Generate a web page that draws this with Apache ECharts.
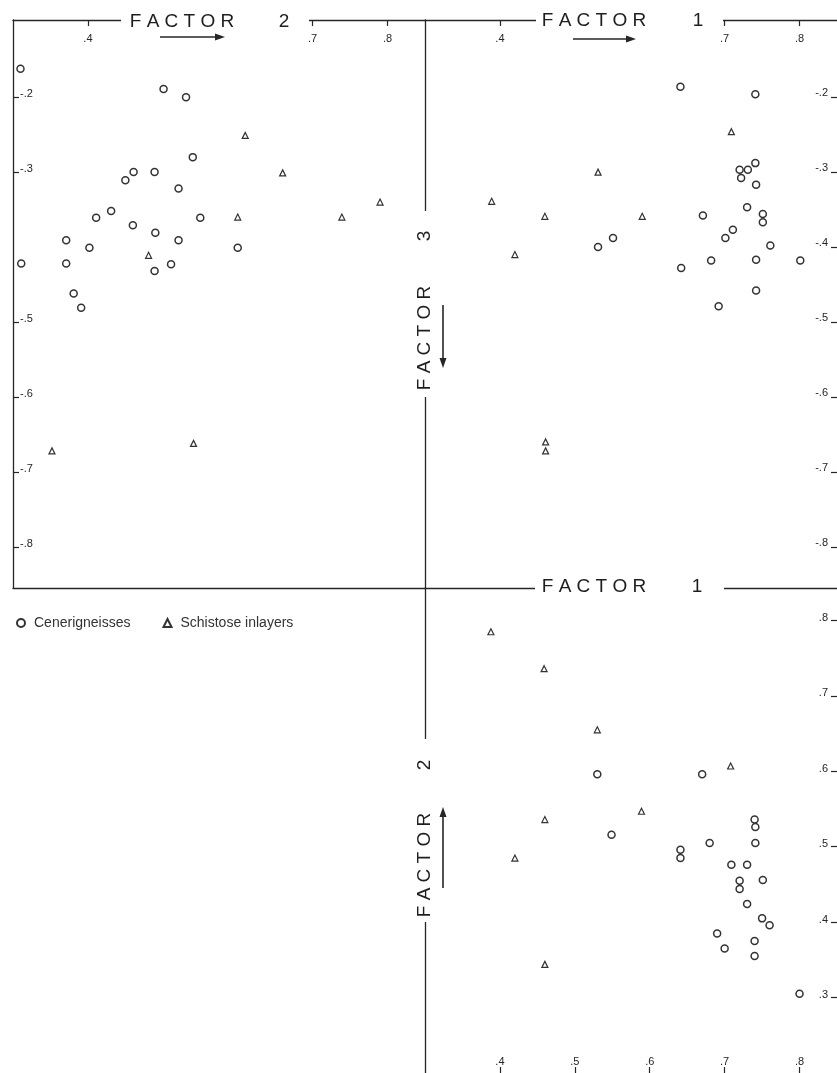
<!DOCTYPE html>
<html>
<head>
<meta charset="utf-8">
<script src="https://cdn.jsdelivr.net/npm/echarts@6/dist/echarts.min.js"></script>
<style>
html,body{margin:0;padding:0;background:#fff;}
#chart{width:837px;height:1073px;}
</style>
</head>
<body>
<div id="chart"></div>
<script>
// ---- DATA ----
// Panel top-left: x = Factor 2, y = Factor 3
const gneissF2F3 = [
  [0.310,-0.162],[0.501,-0.189],[0.531,-0.200],[0.540,-0.280],[0.461,-0.300],
  [0.489,-0.300],[0.450,-0.311],[0.521,-0.322],[0.431,-0.352],[0.411,-0.361],
  [0.550,-0.361],[0.460,-0.371],[0.490,-0.381],[0.371,-0.391],[0.521,-0.391],
  [0.402,-0.401],[0.600,-0.401],[0.311,-0.422],[0.371,-0.422],[0.511,-0.423],
  [0.489,-0.432],[0.381,-0.462],[0.391,-0.481]
];
const schistF2F3 = [
  [0.610,-0.251],[0.660,-0.301],[0.790,-0.340],[0.600,-0.360],[0.739,-0.360],
  [0.481,-0.411],[0.352,-0.672],[0.541,-0.662]
];
// Panel top-right: x = Factor 1, y = Factor 3
const gneissF1F3 = [
  [0.641,-0.186],[0.741,-0.196],[0.741,-0.288],[0.720,-0.297],[0.731,-0.297],
  [0.722,-0.308],[0.742,-0.317],[0.730,-0.347],[0.671,-0.358],[0.751,-0.356],
  [0.751,-0.367],[0.711,-0.377],[0.701,-0.388],[0.551,-0.388],[0.531,-0.400],
  [0.761,-0.398],[0.682,-0.418],[0.742,-0.417],[0.801,-0.418],[0.642,-0.428],
  [0.742,-0.458],[0.692,-0.479]
];
const schistF1F3 = [
  [0.709,-0.246],[0.531,-0.300],[0.389,-0.339],[0.460,-0.359],[0.590,-0.359],
  [0.420,-0.410],[0.461,-0.660],[0.461,-0.672]
];
// Panel bottom-right: x = Factor 1, y = Factor 2
const gneissF1F2 = [
  [0.530,0.596],[0.670,0.596],[0.740,0.536],[0.741,0.526],[0.741,0.505],
  [0.549,0.516],[0.680,0.505],[0.641,0.496],[0.641,0.485],[0.709,0.476],
  [0.730,0.476],[0.720,0.455],[0.751,0.456],[0.720,0.444],[0.730,0.424],
  [0.750,0.405],[0.760,0.396],[0.690,0.385],[0.740,0.375],[0.700,0.365],
  [0.740,0.355],[0.800,0.305]
];
const schistF1F2 = [
  [0.388,0.785],[0.459,0.736],[0.530,0.655],[0.708,0.607],[0.589,0.547],
  [0.460,0.536],[0.420,0.485],[0.460,0.344]
];
// tick values and labels
const f2TopTicks = [0.4, 0.7, 0.8];
const f2TopLabels = ['.4', '.7', '.8'];
const f3LeftTicks = [-0.2, -0.3, -0.5, -0.6, -0.7, -0.8];
const f3LeftLabels = ['-.2', '-.3', '-.5', '-.6', '-.7', '-.8'];
const f1TopTicks = [0.4, 0.7, 0.8];
const f1TopLabels = ['.4', '.7', '.8'];
const f3RightTicks = [-0.2, -0.3, -0.4, -0.5, -0.6, -0.7, -0.8];
const f3RightLabels = ['-.2', '-.3', '-.4', '-.5', '-.6', '-.7', '-.8'];
const f1BottomTicks = [0.4, 0.5, 0.6, 0.7, 0.8];
const f1BottomLabels = ['.4', '.5', '.6', '.7', '.8'];
const f2RightTicks = [0.8, 0.7, 0.6, 0.5, 0.4, 0.3];
const f2RightLabels = ['.8', '.7', '.6', '.5', '.4', '.3'];
const seriesNames = ['Cenerigneisses', 'Schistose inlayers'];

// ---- STYLE HELPERS ----
const INK = '#262626';
const FONT = 'Liberation Sans, Arial, sans-serif';
function lookup(ticks, labels) {
  return function (v) {
    for (let i = 0; i < ticks.length; i++) {
      if (Math.abs(ticks[i] - v) < 1e-6) return labels[i];
    }
    return '';
  };
}
const lineStyle = { color: INK, width: 1.3 };
function valueAxis(o) {
  const a = {
    type: 'value',
    gridIndex: o.grid,
    position: o.position,
    min: o.min, max: o.max,
    splitLine: { show: false },
    axisLine: { show: o.line !== false, onZero: false, lineStyle: lineStyle },
    axisTick: { show: false },
    axisLabel: { show: false }
  };
  if (o.ticks) {
    a.axisTick = { show: true, inside: true, length: 6, customValues: o.ticks, lineStyle: { color: INK, width: 1.2 } };
    a.axisLabel = {
      show: true, inside: true, customValues: o.ticks,
      formatter: lookup(o.ticks, o.labels),
      margin: o.margin, fontSize: 11, color: INK, fontFamily: FONT
    };
    if (o.lift) {
      a.axisLabel.verticalAlign = 'bottom';
      a.axisLabel.lineHeight = o.lift;
    }
  }
  return a;
}

const xRange = [0.3, 0.85];
const f3Range = [-0.855, -0.097];
const f2Range = [0.2, 0.843];

const xAxes = [
  valueAxis({ grid: 0, position: 'top', min: xRange[0], max: xRange[1], ticks: f2TopTicks, labels: f2TopLabels, margin: 13 }),
  valueAxis({ grid: 0, position: 'bottom', min: xRange[0], max: xRange[1] }),
  valueAxis({ grid: 1, position: 'top', min: xRange[0], max: xRange[1], ticks: f1TopTicks, labels: f1TopLabels, margin: 13 }),
  valueAxis({ grid: 2, position: 'bottom', min: xRange[0], max: xRange[1], ticks: f1BottomTicks, labels: f1BottomLabels, margin: 6, line: false }),
  valueAxis({ grid: 2, position: 'top', min: xRange[0], max: xRange[1] })
];
const yAxes = [
  valueAxis({ grid: 0, position: 'left', min: f3Range[0], max: f3Range[1], ticks: f3LeftTicks, labels: f3LeftLabels, margin: 7, lift: 6 }),
  valueAxis({ grid: 1, position: 'right', min: f3Range[0], max: f3Range[1], ticks: f3RightTicks, labels: f3RightLabels, margin: 9, line: false, lift: 8 }),
  valueAxis({ grid: 1, position: 'left', min: f3Range[0], max: f3Range[1] }),
  valueAxis({ grid: 2, position: 'right', min: f2Range[0], max: f2Range[1], ticks: f2RightTicks, labels: f2RightLabels, margin: 9, line: false, lift: 5 }),
  valueAxis({ grid: 2, position: 'left', min: f2Range[0], max: f2Range[1] })
];

function scat(name, data, xi, yi) {
  const isCircle = name === seriesNames[0];
  return {
    type: 'scatter', name: name, data: data,
    xAxisIndex: xi, yAxisIndex: yi,
    symbol: isCircle ? 'circle' : 'triangle',
    symbolSize: isCircle ? 7 : 6,
    itemStyle: { color: '#fff', borderColor: '#333', borderWidth: isCircle ? 1.5 : 1.2, opacity: 1 },
    silent: true
  };
}

// ---- DECORATION (axis titles that break the frame lines) ----
const titleFont = '19px ' + FONT;
function gText(text, x, y, rot) {
  return {
    type: 'text', x: x, y: y, rotation: rot || 0, z: 101,
    style: { text: text, font: titleFont, fill: '#1e1e1e', align: 'center', verticalAlign: 'middle' }
  };
}
function gRect(x, y, w, h) {
  return { type: 'rect', z: 100, shape: { x: x, y: y, width: w, height: h }, style: { fill: '#fff' } };
}
function hArrow(x1, x2, y) {
  const dir = x2 > x1 ? 1 : -1;
  return [
    { type: 'line', z: 101, shape: { x1: x1, y1: y, x2: x2 - dir * 6, y2: y }, style: { stroke: INK, lineWidth: 1.6 } },
    { type: 'polygon', z: 101, shape: { points: [[x2, y], [x2 - dir * 10, y - 3.5], [x2 - dir * 10, y + 3.5]] }, style: { fill: INK } }
  ];
}
function vArrow(x, y1, y2) {
  const dir = y2 > y1 ? 1 : -1;
  return [
    { type: 'line', z: 101, shape: { x1: x, y1: y1, x2: x, y2: y2 - dir * 6 }, style: { stroke: INK, lineWidth: 1.6 } },
    { type: 'polygon', z: 101, shape: { points: [[x, y2], [x - 3.5, y2 - dir * 10], [x + 3.5, y2 - dir * 10]] }, style: { fill: INK } }
  ];
}
const graphics = [].concat(
  [gRect(121, 10, 188, 20), gText('F A C T O R', 182, 22), gText('2', 284, 22)],
  hArrow(160, 225, 37),
  [gRect(536, 10, 187, 20), gText('F A C T O R', 594, 21), gText('1', 698, 21)],
  hArrow(573, 636, 39),
  [gRect(535, 578, 189, 20), gText('F A C T O R', 594, 587), gText('1', 697, 587)],
  [gRect(416, 211, 18, 186), gText('F A C T O R', 425, 338, Math.PI / 2), gText('3', 425, 236, Math.PI / 2)],
  vArrow(443, 305, 368),
  [gRect(416, 739, 18, 183), gText('2', 425, 765, Math.PI / 2), gText('F A C T O R', 425, 865, Math.PI / 2)],
  vArrow(443, 888, 807)
);

const chart = echarts.init(document.getElementById('chart'), null, { renderer: 'canvas' });
chart.setOption({
  animation: false,
  backgroundColor: '#fff',
  grid: [
    { left: 13, top: 20, width: 412, height: 568, containLabel: false, outerBoundsMode: 'none' },
    { left: 425, top: 20, width: 412, height: 568, containLabel: false, outerBoundsMode: 'none' },
    { left: 425, top: 588, width: 412, height: 485, containLabel: false, outerBoundsMode: 'none' }
  ],
  xAxis: xAxes,
  yAxis: yAxes,
  legend: {
    data: seriesNames,
    left: 11, top: 611,
    itemWidth: 8, itemHeight: 8, itemGap: 32,
    textStyle: { fontSize: 14, color: '#333', fontFamily: FONT, padding: [0, 0, 0, 4] },
    selectedMode: false
  },
  series: [
    scat(seriesNames[0], gneissF2F3, 0, 0),
    scat(seriesNames[1], schistF2F3, 0, 0),
    scat(seriesNames[0], gneissF1F3, 2, 1),
    scat(seriesNames[1], schistF1F3, 2, 1),
    scat(seriesNames[0], gneissF1F2, 3, 3),
    scat(seriesNames[1], schistF1F2, 3, 3)
  ],
  graphic: graphics
});
</script>
</body>
</html>
